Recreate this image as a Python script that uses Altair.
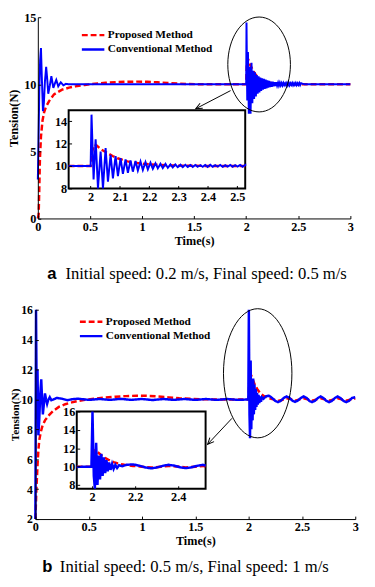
import altair as alt
import pandas as pd

W, H = 367, 579
FONT = "Liberation Serif"
SERIES = ["Proposed Method", "Conventional Method"]
SERIES_COLORS = ["#ff0000", "#0000ff"]
SERIES_DASHES = [[6, 3], [1, 0]]
X_TITLE = "Time(s)"
Y_TITLE = "Tension(N)"

# ---------------- panel a : (t, tension) ----------------
a_proposed = [
    (0.0, 0.0), (0.008, 0.3), (0.014, 2.2), (0.02, 4.4), (0.03, 6.1), (0.045, 7.3),
    (0.06, 7.9), (0.077, 8.3), (0.108, 8.75), (0.155, 9.25), (0.233, 9.6), (0.3, 9.75),
    (0.36, 9.85), (0.45, 9.95), (0.55, 10.05), (0.65, 10.11), (0.75, 10.16), (0.85, 10.19),
    (0.95, 10.2), (1.05, 10.19), (1.15, 10.15), (1.25, 10.1), (1.35, 10.05), (1.45, 10.02),
    (1.55, 10.01), (1.7, 10.0), (2.0, 10.0), (2.005, 11.3), (2.012, 11.9), (2.02, 11.85),
    (2.035, 11.5), (2.058, 11.15), (2.075, 10.9), (2.092, 10.7), (2.11, 10.55), (2.125, 10.42),
    (2.15, 10.3), (2.18, 10.2), (2.22, 10.12), (2.26, 10.07), (2.3, 10.04), (2.4, 10.01),
    (2.5, 10.0), (2.7, 10.0), (3.0, 10.0),
]
a_conventional = [
    (0.0, 2.9), (0.006, 5.5), (0.014, 9.5), (0.022, 11.8), (0.03, 12.7), (0.038, 10.6),
    (0.049, 8.0), (0.058, 8.6), (0.068, 10.2), (0.08, 11.3), (0.09, 10.4), (0.1, 9.3),
    (0.115, 9.9), (0.13, 10.6), (0.149, 9.73), (0.163, 10.05), (0.177, 10.33), (0.196, 9.85),
    (0.22, 10.15), (0.245, 9.93), (0.27, 10.04), (0.3, 10.0), (0.6, 10.0), (1.0, 10.0),
    (1.5, 10.0), (1.95, 10.0), (2.0, 10.0),
    (2.003, 14.6), (2.01, 8.8), (2.017, 12.4), (2.025, 7.8), (2.034, 11.3), (2.042, 7.8),
    (2.051, 11.6), (2.059, 8.6), (2.068, 11.0), (2.076, 8.9), (2.085, 10.9), (2.093, 9.1),
    (2.102, 10.7), (2.11, 9.3), (2.119, 10.6), (2.127, 9.4), (2.136, 10.5), (2.144, 9.5),
    (2.153, 10.45), (2.161, 9.6), (2.17, 10.4), (2.178, 9.65), (2.187, 10.35), (2.195, 9.7),
    (2.204, 10.3), (2.212, 9.75), (2.221, 10.25), (2.229, 9.8), (2.238, 10.2), (2.246, 9.82),
    (2.255, 10.2), (2.263, 9.85), (2.272, 10.15), (2.28, 9.88), (2.289, 10.15), (2.297, 9.9),
    (2.306, 10.12), (2.314, 9.9), (2.323, 10.12), (2.331, 9.92), (2.34, 10.1), (2.348, 9.92),
    (2.357, 10.1), (2.365, 9.94), (2.374, 10.08), (2.382, 9.94), (2.391, 10.1), (2.399, 9.92),
    (2.408, 10.12), (2.416, 9.93), (2.425, 10.08), (2.433, 9.95), (2.442, 10.1), (2.45, 9.93),
    (2.459, 10.08), (2.467, 9.95), (2.476, 10.1), (2.484, 9.94), (2.493, 10.08), (2.501, 9.95),
    (2.51, 10.1), (2.518, 9.94), (2.527, 10.08), (2.56, 10.0), (2.8, 10.0), (3.0, 10.0),
]

# ---------------- panel b : (t, tension) ----------------
b_proposed = [
    (0.0, 2.0), (0.005, 3.0), (0.01, 4.1), (0.015, 4.8), (0.02, 5.6), (0.028, 6.6),
    (0.037, 7.3), (0.05, 7.8), (0.067, 8.25), (0.09, 8.6), (0.128, 8.95), (0.17, 9.25),
    (0.22, 9.5), (0.28, 9.68), (0.342, 9.8), (0.4, 9.9), (0.465, 9.98), (0.55, 10.05),
    (0.65, 10.12), (0.75, 10.18), (0.85, 10.22), (0.95, 10.25), (1.05, 10.24), (1.15, 10.2),
    (1.25, 10.14), (1.35, 10.08), (1.45, 10.04), (1.55, 10.01), (1.7, 10.0), (2.0, 10.0),
    (2.006, 11.3), (2.012, 11.75), (2.025, 11.6), (2.04, 11.3), (2.06, 10.95), (2.08, 10.7),
    (2.1, 10.5), (2.12, 10.35), (2.15, 10.2), (2.19, 10.08), (2.23, 10.0), (2.275, 9.9),
    (2.32, 9.98), (2.355, 10.08), (2.4, 10.02), (2.435, 9.92), (2.48, 10.0), (2.515, 10.08),
    (2.56, 10.0), (2.595, 9.92), (2.64, 10.0), (2.675, 10.08), (2.72, 10.0), (2.755, 9.92),
    (2.8, 10.0), (2.835, 10.08), (2.88, 10.0), (2.915, 9.92), (2.96, 10.0), (3.0, 10.06),
]
b_conventional = [
    (0.0, 2.0), (0.003, 9.0), (0.006, 16.0), (0.012, 10.2), (0.02, 12.0), (0.028, 7.6),
    (0.036, 8.6), (0.046, 10.4), (0.055, 11.35), (0.063, 10.0), (0.07, 9.0), (0.08, 9.7),
    (0.09, 10.4), (0.1, 10.0), (0.11, 9.7), (0.12, 9.95), (0.135, 10.15), (0.15, 9.95),
    (0.17, 10.0), (0.2, 10.1), (0.25, 10.05), (0.3, 9.95), (0.35, 10.02), (0.4, 10.05),
    (0.5, 9.97), (0.6, 10.03), (0.7, 9.97), (0.8, 10.04), (0.9, 9.97), (1.0, 10.03),
    (1.1, 9.96), (1.2, 10.03), (1.3, 9.97), (1.4, 10.03), (1.5, 9.97), (1.6, 10.03),
    (1.7, 9.97), (1.8, 10.03), (1.9, 9.97), (1.997, 10.0),
    (2.002, 16.0), (2.008, 9.0), (2.013, 7.4), (2.019, 12.6), (2.025, 8.0), (2.031, 11.2),
    (2.037, 8.6), (2.043, 11.4), (2.049, 9.0), (2.055, 11.0), (2.061, 9.3), (2.067, 10.7),
    (2.073, 9.5), (2.079, 10.45), (2.086, 9.65), (2.093, 10.3), (2.1, 9.75), (2.108, 10.2),
    (2.116, 9.85), (2.125, 10.15), (2.14, 10.05), (2.16, 10.2), (2.19, 10.25), (2.22, 10.1),
    (2.25, 9.9), (2.275, 9.82), (2.3, 9.9), (2.33, 10.1), (2.355, 10.2), (2.38, 10.12),
    (2.41, 9.92), (2.435, 9.84), (2.46, 9.92), (2.49, 10.1), (2.515, 10.2), (2.545, 10.1),
    (2.57, 9.9), (2.595, 9.82), (2.62, 9.9), (2.65, 10.1), (2.675, 10.2), (2.7, 10.1),
    (2.73, 9.9), (2.755, 9.82), (2.78, 9.9), (2.81, 10.1), (2.835, 10.2), (2.86, 10.1),
    (2.89, 9.9), (2.915, 9.82), (2.94, 9.9), (2.97, 10.1), (3.0, 10.15),
]

# ticks
main_x_ticks = [0, 0.5, 1, 1.5, 2, 2.5, 3]
a_main_y_ticks = [0, 5, 10, 15]
b_main_y_ticks = [2, 4, 6, 8, 10, 12, 14, 16]
a_inset_x_ticks = [2, 2.1, 2.2, 2.3, 2.4, 2.5]
a_inset_y_ticks = [8, 10, 12, 14]
b_inset_x_ticks = [2, 2.2, 2.4]
b_inset_y_ticks = [8, 10, 12, 14, 16]

# domains
a_main_x_dom, a_main_y_dom = [0, 3], [0, 15]
a_inset_x_dom, a_inset_y_dom = [1.925, 2.527], [8, 15]
b_main_x_dom, b_main_y_dom = [0, 3], [2, 16]
b_inset_x_dom, b_inset_y_dom = [1.929, 2.527], [7.6, 16]

# annotations (data coordinates of the main plots)
a_ellipse = [(2.124, 11.48)]
a_arrow = [(1.850, 9.53, 1.516, 8.18)]
b_ellipse = [(2.085, 11.75)]
b_arrow = [(1.844, 8.74, 1.615, 7.0)]

caption_a = ["a", "Initial speed: 0.2 m/s, Final speed: 0.5 m/s"]
caption_b = ["b", "Initial speed: 0.5 m/s, Final speed: 1 m/s"]

ARROW_HEAD = "M -0.45 1 L 0 0 L 0.45 1"


def ellipse_path(rx):
    return f"M -{rx} 0 A {rx} 1 0 1 0 {rx} 0 A {rx} 1 0 1 0 -{rx} 0 Z"


def to_df(pairs, name):
    return pd.DataFrame(pairs, columns=["t", "v"]).assign(series=name)


def window(df, lo, hi):
    inside = df.index[(df.t >= lo) & (df.t <= hi)]
    a = max(inside.min() - 1, 0)
    b = min(inside.max() + 1, len(df) - 1)
    return df.iloc[a:b + 1]


def block(prop_df, conv_df, xdom, ydom, xr, yr, xticks, yticks, inset, widths,
          legend_pos=None, ellipse=None, ell_rx=None, ell_size=None,
          arrow=None, arrow_angle=None, title_pads=(2, 3), label_pad=2,
          ylabel_pad=2, ylabel_size=12.5, ytitle_size=12.5):
    xs = alt.Scale(domain=xdom, range=xr, nice=False, zero=False, clamp=True)
    ys = alt.Scale(domain=ydom, range=yr, nice=False, zero=False, clamp=True)
    x_axis = alt.Axis(orient="bottom", offset=yr[0] - H, values=xticks, format="~g",
                      labelFlush=False, labelOverlap=False, ticks=False, domain=not inset,
                      labelPadding=label_pad, title=None if inset else X_TITLE,
                      titlePadding=title_pads[0], zindex=1)
    y_axis = alt.Axis(orient="left", offset=-xr[0], values=yticks, format="~g",
                      labelOverlap=False, ticks=False, domain=not inset,
                      labelPadding=ylabel_pad, labelFontSize=ylabel_size,
                      title=None if inset else Y_TITLE,
                      titlePadding=title_pads[1], titleFontSize=ytitle_size, zindex=1)
    tick_x = alt.Axis(orient="top", offset=-yr[0], values=xticks, labels=False,
                      domain=False, tickSize=3, title=None, zindex=1)
    tick_y = alt.Axis(orient="right", offset=xr[0] - W, values=yticks, labels=False,
                      domain=False, tickSize=3, title=None, zindex=1)
    box = pd.DataFrame({"t": [xdom[0]], "t2": [xdom[1]], "v": [ydom[0]], "v2": [ydom[1]]})

    layers = []
    if inset:
        layers.append(
            alt.Chart(box).mark_rect(fill="white", stroke="black", strokeWidth=2).encode(
                x=alt.X("t:Q", scale=xs, axis=None), x2="t2",
                y=alt.Y("v:Q", scale=ys, axis=None), y2="v2"))
    layers.append(
        alt.Chart(box).mark_point(opacity=0).encode(
            x=alt.X("t:Q", scale=xs, axis=tick_x), y=alt.Y("v:Q", scale=ys, axis=tick_y)))

    if legend_pos is not None:
        leg = alt.Legend(orient="none", legendX=legend_pos[0], legendY=legend_pos[1],
                         title=None, direction="vertical", symbolType="stroke",
                         symbolSize=529, symbolStrokeWidth=2.5, clipHeight=14,
                         rowPadding=0.7, padding=0, labelFont=FONT,
                         labelFontWeight="bold", labelFontSize=11.5, labelColor="black",
                         labelOffset=2, symbolOffset=0)
    else:
        leg = None
    color = alt.Color("series:N", scale=alt.Scale(domain=SERIES, range=SERIES_COLORS), legend=leg)
    dash = alt.StrokeDash("series:N", scale=alt.Scale(domain=SERIES, range=SERIES_DASHES), legend=leg)

    layers.append(
        alt.Chart(prop_df).mark_line(strokeWidth=widths[0]).encode(
            x=alt.X("t:Q", scale=xs, axis=x_axis), y=alt.Y("v:Q", scale=ys, axis=y_axis),
            color=color, strokeDash=dash))
    layers.append(
        alt.Chart(conv_df).mark_line(strokeWidth=widths[1]).encode(
            x=alt.X("t:Q", scale=xs, axis=None), y=alt.Y("v:Q", scale=ys, axis=None),
            color=color, strokeDash=dash))

    if ellipse is not None:
        layers.append(
            alt.Chart(pd.DataFrame(ellipse, columns=["t", "v"])).mark_point(
                shape=ellipse_path(ell_rx), size=ell_size, filled=False, color="black",
                strokeWidth=1, opacity=1).encode(
                x=alt.X("t:Q", scale=xs, axis=None), y=alt.Y("v:Q", scale=ys, axis=None)))
    if arrow is not None:
        adf = pd.DataFrame(arrow, columns=["t", "v", "t2", "v2"])
        layers.append(
            alt.Chart(adf).mark_rule(color="black", strokeWidth=1).encode(
                x=alt.X("t:Q", scale=xs, axis=None), y=alt.Y("v:Q", scale=ys, axis=None),
                x2="t2", y2="v2"))
        layers.append(
            alt.Chart(adf).mark_point(shape=ARROW_HEAD, size=170, angle=arrow_angle,
                                      filled=False, color="black", strokeWidth=1,
                                      opacity=1).encode(
                x=alt.X("t2:Q", scale=xs, axis=None), y=alt.Y("v2:Q", scale=ys, axis=None)))
    return alt.layer(*layers).resolve_axis(x="independent", y="independent")


def caption(labels, x_letter, x_text, y):
    d1 = pd.DataFrame({"s": [labels[0]]})
    d2 = pd.DataFrame({"s": [labels[1]]})
    letter = alt.Chart(d1).mark_text(font="Liberation Sans", fontWeight="bold", fontSize=17,
                                     align="left", baseline="alphabetic", color="black").encode(
        text="s:N", x=alt.value(x_letter), y=alt.value(y))
    text = alt.Chart(d2).mark_text(font=FONT, fontSize=17, align="left",
                                   baseline="alphabetic", color="black").encode(
        text="s:N", x=alt.value(x_text), y=alt.value(y))
    return [letter, text]


ap, ac = to_df(a_proposed, SERIES[0]), to_df(a_conventional, SERIES[1])
bp, bc = to_df(b_proposed, SERIES[0]), to_df(b_conventional, SERIES[1])

main_a = block(ap, ac, a_main_x_dom, a_main_y_dom, [30.5, 350], [208.7, 3],
               main_x_ticks, a_main_y_ticks, False, (2.5, 2),
               legend_pos=(74, 14.3), ellipse=a_ellipse, ell_rx=0.66, ell_size=9409,
               arrow=a_arrow, arrow_angle=242.5, title_pads=(2, 3), label_pad=2)
inset_a = block(window(ap, *a_inset_x_dom), window(ac, *a_inset_x_dom),
                a_inset_x_dom, a_inset_y_dom, [62, 242.5], [178, 98],
                a_inset_x_ticks, a_inset_y_ticks, True, (2.5, 2), label_pad=2)
main_b = block(bp, bc, b_main_x_dom, b_main_y_dom, [28, 355], [516, 302],
               main_x_ticks, b_main_y_ticks, False, (2.5, 2.5),
               legend_pos=(72, 307.3), ellipse=b_ellipse, ell_rx=0.53, ell_size=17424,
               arrow=b_arrow, arrow_angle=223.3, title_pads=(2, 0.5), label_pad=2,
               ylabel_pad=3, ylabel_size=12, ytitle_size=11.5)
inset_b = block(window(bp, *b_inset_x_dom), window(bc, *b_inset_x_dom),
                b_inset_x_dom, b_inset_y_dom, [70.3, 202], [485, 406],
                b_inset_x_ticks, b_inset_y_ticks, True, (2.5, 2.5), label_pad=2)

layers = [main_a, inset_a, main_b, inset_b]
layers += caption(caption_a, 40, 58.7, 270.3)
layers += caption(caption_b, 35, 53, 570)

chart = alt.layer(*layers).resolve_scale(
    x="independent", y="independent", color="independent", strokeDash="independent"
).resolve_axis(
    x="independent", y="independent"
).resolve_legend(
    color="independent", strokeDash="independent"
).properties(
    width=W, height=H, padding=0, autosize=alt.AutoSizeParams(type="none")
).configure_view(
    stroke=None
).configure_axis(
    labelFont=FONT, labelFontWeight="bold", labelFontSize=12.5, labelColor="black",
    titleFont=FONT, titleFontWeight="bold", titleFontSize=12.5, titleColor="black",
    domainColor="black", domainWidth=1, tickColor="black", tickWidth=1, grid=False
)

chart.save("out.html", embed_options={"renderer": "svg", "actions": False})
